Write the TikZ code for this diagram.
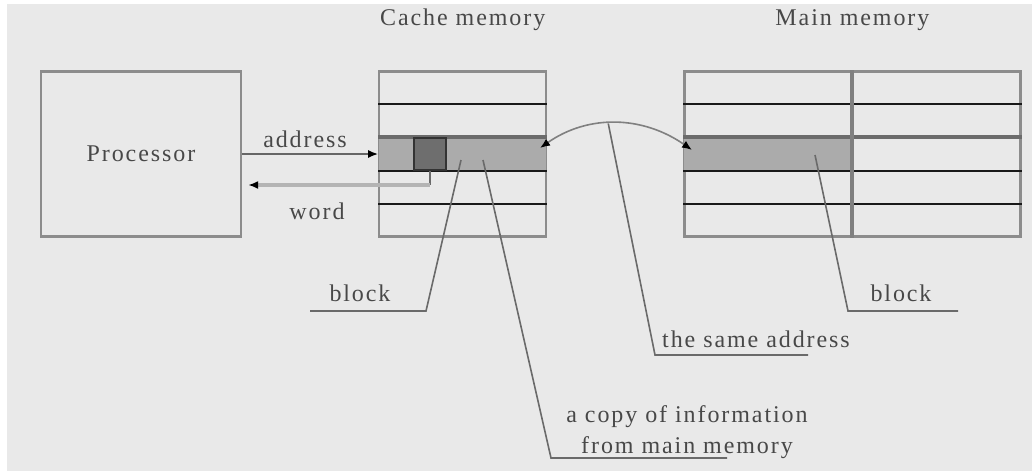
\documentclass[tikz,border=0pt]{standalone}
\usepackage{fontspec}
\setmainfont{Liberation Serif}[LetterSpace=8]
\usetikzlibrary{arrows.meta, positioning, calc}
\definecolor{bggray}{HTML}{E9E9E9}
\definecolor{framegray}{HTML}{8C8C8C}
\definecolor{blockgray}{HTML}{ABABAB}
\definecolor{wordgray}{HTML}{6E6E6E}
\definecolor{leadgray}{HTML}{6A6A6A}
\definecolor{wiregray}{HTML}{B4B4B4}
\definecolor{textgray}{HTML}{484848}

\begin{document}
\begin{tikzpicture}[
    x=0.5pt, y=-0.5pt,
    font=\fontsize{12}{14}\selectfont,
    text=textgray,
    node distance=68pt,
    membox/.style={draw=framegray, line width=1.1pt, minimum height=82.5pt,
                   inner sep=0pt},
    blk/.style={fill=blockgray, minimum height=16pt, inner sep=0pt},
    wordbox/.style={fill=wordgray, draw=black!80, line width=1pt,
                    minimum size=16pt, inner sep=0pt},
    lbl/.style={anchor=base, inner sep=0pt},
    rowline/.style={line width=1pt, black!90},
    hiline/.style={line width=2pt, black!58},
    divider/.style={line width=2pt, black!50},
    arrow/.style={-{Latex[length=5pt, width=4pt, color=black]},
                  line width=0.8pt, black!60},
    wordarrow/.style={-{Latex[length=5pt, width=4pt, color=black]},
                      line width=1.8pt, wiregray},
    arc/.style={{Latex[length=5pt, width=4pt, color=black]}-{Latex[length=5pt, width=4pt, color=black]},
                line width=0.8pt, black!50},
    leader/.style={line width=0.8pt, leadgray}
]

\fill[white] (0,0) rectangle (1032,471);
\fill[bggray] (7,4) rectangle (1032,471);
\useasboundingbox (0,0) rectangle (1032,471);

% --- Processor and the two memories ---
\node[membox, minimum width=100pt] (proc) at (141,154) {Processor};
\node[membox, minimum width=83.5pt, right=of proc] (cache) {};
\node[membox, minimum width=168pt, right=of cache] (main) {};

\node[lbl] (cachetitle) at ([yshift=22.5pt]cache.north) {Cache memory};
\node[lbl] (maintitle) at ([yshift=22.5pt]main.north) {Main memory};

% --- Blocks ---
\node[blk, minimum width=83.5pt] (cblock) at (cache.center) {};
\node[blk, minimum width=84pt, anchor=west] (mblock) at (main.west) {};

\foreach \m in {cache, main} {
  \foreach \k in {1,3,4}
    \draw[rowline] ($(\m.north west)!\k/5!(\m.south west)$)
                -- ($(\m.north east)!\k/5!(\m.south east)$);
  \draw[hiline] ($(\m.north west)!2/5!(\m.south west)$)
             -- ($(\m.north east)!2/5!(\m.south east)$);
}
\draw[divider] (mblock.east |- main.north) -- (mblock.east |- main.south);

\node[wordbox, anchor=west] (word) at ([xshift=17pt]cblock.west) {};

% --- address / word ---
\draw[arrow] (proc.east) -- (proc.east -| cache.west);
\node[lbl] (addrlbl) at (305,147) {address};
\coordinate (wordturn) at ([yshift=-15.5pt]proc.east -| word.south);
\draw[leader] (word.south) -- (wordturn);
\draw[wordarrow] (wordturn) -- ([xshift=3pt]proc.east |- wordturn);
\node[lbl] (wordlbl) at (317,219) {word};

% --- same address arc ---
\coordinate (ctip) at (540,148);
\coordinate (mtip) at (692,150);
\draw[arc] (ctip) to[out=35, in=145] coordinate[pos=0.45] (peak) (mtip);

% --- leaders ---
\coordinate (cbfrom) at (461,160);
\coordinate (cpfrom) at (483,160);
\coordinate (mbfrom) at (815,155);
\coordinate (lbknee) at (426,311);
\coordinate (lbend) at (310,311);
\coordinate (cpknee) at (551,458);
\coordinate (cpend) at (727,458);
\coordinate (saknee) at (655,355);
\coordinate (saend) at (808,355);
\coordinate (rbknee) at (848,311);
\coordinate (rbend) at (958,311);

\draw[leader] (cbfrom) -- (lbknee) -- (lbend);
\draw[leader] (cpfrom) -- (cpknee) -- (cpend);
\draw[leader] (peak) -- (saknee) -- (saend);
\draw[leader] (mbfrom) -- (rbknee) -- (rbend);

\node[lbl] (lblock) at (360,301) {block};
\node[lbl] (rblock) at (901,301) {block};
\node[lbl] (same) at (756,347) {the same address};
\node[lbl] (copy1) at (687,422) {a copy of information};
\node[lbl] (copy2) at (687,453) {from main memory};

\end{tikzpicture}
\end{document}
